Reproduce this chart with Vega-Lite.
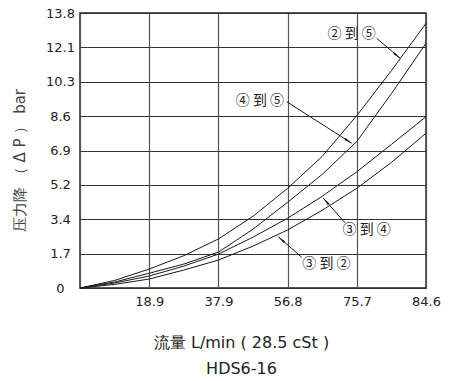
{
  "$schema": "https://vega.github.io/schema/vega-lite/v6.json",
  "width": 346,
  "height": 275,
  "autosize": {"type": "none"},
  "padding": {"left": 80, "top": 13, "right": 25, "bottom": 93},
  "background": "white",
  "config": {
    "view": {"stroke": "#222", "strokeWidth": 1.5},
    "font": "DejaVu Sans"
  },
  "datasets": {
    "curves": [
      {"series": "2-5", "flow": 0, "dp": 0}, {"series": "2-5", "flow": 9.46, "dp": 0.38}, {"series": "2-5", "flow": 18.93, "dp": 0.95}, {"series": "2-5", "flow": 28.39, "dp": 1.62}, {"series": "2-5", "flow": 37.86, "dp": 2.46}, {"series": "2-5", "flow": 47.32, "dp": 3.6}, {"series": "2-5", "flow": 56.79, "dp": 5.0}, {"series": "2-5", "flow": 66.25, "dp": 6.6}, {"series": "2-5", "flow": 75.72, "dp": 8.65}, {"series": "2-5", "flow": 85.18, "dp": 10.9}, {"series": "2-5", "flow": 94.63, "dp": 13.27},
      {"series": "4-5", "flow": 0, "dp": 0}, {"series": "4-5", "flow": 9.46, "dp": 0.3}, {"series": "4-5", "flow": 18.93, "dp": 0.74}, {"series": "4-5", "flow": 28.39, "dp": 1.2}, {"series": "4-5", "flow": 37.86, "dp": 1.8}, {"series": "4-5", "flow": 47.32, "dp": 2.95}, {"series": "4-5", "flow": 56.79, "dp": 4.3}, {"series": "4-5", "flow": 66.25, "dp": 5.7}, {"series": "4-5", "flow": 75.72, "dp": 7.35}, {"series": "4-5", "flow": 85.18, "dp": 9.75}, {"series": "4-5", "flow": 94.63, "dp": 12.27},
      {"series": "3-4", "flow": 0, "dp": 0}, {"series": "3-4", "flow": 9.46, "dp": 0.25}, {"series": "3-4", "flow": 18.93, "dp": 0.6}, {"series": "3-4", "flow": 28.39, "dp": 1.1}, {"series": "3-4", "flow": 37.86, "dp": 1.7}, {"series": "3-4", "flow": 47.32, "dp": 2.55}, {"series": "3-4", "flow": 56.79, "dp": 3.5}, {"series": "3-4", "flow": 66.25, "dp": 4.6}, {"series": "3-4", "flow": 75.72, "dp": 5.83}, {"series": "3-4", "flow": 85.18, "dp": 7.2}, {"series": "3-4", "flow": 94.63, "dp": 8.59},
      {"series": "3-2", "flow": 0, "dp": 0}, {"series": "3-2", "flow": 9.46, "dp": 0.18}, {"series": "3-2", "flow": 18.93, "dp": 0.45}, {"series": "3-2", "flow": 28.39, "dp": 0.9}, {"series": "3-2", "flow": 37.86, "dp": 1.4}, {"series": "3-2", "flow": 47.32, "dp": 2.1}, {"series": "3-2", "flow": 56.79, "dp": 2.91}, {"series": "3-2", "flow": 66.25, "dp": 3.9}, {"series": "3-2", "flow": 75.72, "dp": 5.0}, {"series": "3-2", "flow": 85.18, "dp": 6.3}, {"series": "3-2", "flow": 94.63, "dp": 7.76}
    ],
    "arrows": [
      {"id": "a", "fx": 81.15, "fy": 12.52, "tx": 87.53, "ty": 11.52},
      {"id": "b", "fx": 56.54, "fy": 9.34, "tx": 74.32, "ty": 7.26},
      {"id": "c", "fx": 72.48, "fy": 3.27, "tx": 66.55, "ty": 4.5},
      {"id": "d", "fx": 60.64, "fy": 1.54, "tx": 54.24, "ty": 2.57}
    ],
    "labels": [
      {"text": "② 到 ⑤", "flow": 74.3, "dp": 12.76},
      {"text": "④ 到 ⑤", "flow": 49.2, "dp": 9.4},
      {"text": "③ 到 ④", "flow": 78.4, "dp": 2.91},
      {"text": "③ 到 ②", "flow": 67.4, "dp": 1.18}
    ]
  },
  "encoding": {
    "x": {
      "type": "quantitative",
      "scale": {"domain": [0, 94.63], "nice": false, "zero": false},
      "axis": {
        "title": ["流量 L/min  (  28.5  cSt  )", "HDS6-16"],
        "titleFont": "DejaVu Sans",
        "titleFontSize": 16,
        "titleFontWeight": "normal",
        "titleColor": "#222",
        "titleX": 161,
        "titleY": 46,
        "titleAnchor": null,
        "titleAlign": "center",
        "titleBaseline": "top",
        "titleLineHeight": 26,
        "values": [0, 18.93, 37.86, 56.79, 75.72, 94.63],
        "labelExpr": "datum.value == 0 ? '' : (datum.value > 90 ? '84.6' : format(datum.value, '.1f'))",
        "labelFont": "DejaVu Sans",
        "labelFontSize": 13,
        "labelColor": "#222",
        "labelPadding": 7,
        "labelFlush": false,
        "labelOverlap": false,
        "labelBound": false,
        "ticks": false,
        "domain": false,
        "gridColor": "#555",
        "gridOpacity": 1,
        "gridWidth": 1.2
      }
    },
    "y": {
      "type": "quantitative",
      "scale": {"domain": [0, 13.79], "nice": false, "zero": false},
      "axis": {
        "title": "压力降 （ Δ P ） bar",
        "titleFont": "DejaVu Sans",
        "titleFontSize": 15,
        "titleFontWeight": "normal",
        "titleColor": "#444",
        "titleX": -61,
        "titleY": 147,
        "titleAngle": -90,
        "titleAlign": "center",
        "titleBaseline": "middle",
        "values": [0, 1.724, 3.448, 5.171, 6.895, 8.619, 10.343, 12.066, 13.79],
        "labelExpr": "datum.value == 0 ? '0' : format(datum.value, '.1f')",
        "labelFont": "DejaVu Sans",
        "labelFontSize": 13,
        "labelColor": "#222",
        "labelAlign": "center",
        "labelPadding": 20,
        "labelFlush": false,
        "labelOverlap": false,
        "labelBound": false,
        "ticks": false,
        "domain": false,
        "gridColor": "#333",
        "gridOpacity": 1,
        "gridWidth": 1.2
      }
    }
  },
  "layer": [
    {
      "data": {"name": "curves"},
      "mark": {"type": "line", "color": "#1a1a1a", "strokeWidth": 1},
      "encoding": {
        "x": {"field": "flow", "type": "quantitative"},
        "y": {"field": "dp", "type": "quantitative"},
        "detail": {"field": "series"}
      }
    },
    {
      "data": {"name": "arrows"},
      "mark": {"type": "rule", "color": "#1a1a1a", "strokeWidth": 1},
      "encoding": {
        "x": {"field": "fx", "type": "quantitative"},
        "y": {"field": "fy", "type": "quantitative"},
        "x2": {"field": "tx"},
        "y2": {"field": "ty"}
      }
    },
    {
      "data": {"name": "arrows"},
      "transform": [{"filter": "datum.id == 'a'"}],
      "mark": {"type": "point", "shape": "M0,0 L0.3,2 L-0.3,2 Z", "filled": true, "color": "#1a1a1a", "opacity": 1, "size": 64, "angle": 130.6},
      "encoding": {"x": {"field": "tx", "type": "quantitative"}, "y": {"field": "ty", "type": "quantitative"}}
    },
    {
      "data": {"name": "arrows"},
      "transform": [{"filter": "datum.id == 'b'"}],
      "mark": {"type": "point", "shape": "M0,0 L0.3,2 L-0.3,2 Z", "filled": true, "color": "#1a1a1a", "opacity": 1, "size": 64, "angle": 122.6},
      "encoding": {"x": {"field": "tx", "type": "quantitative"}, "y": {"field": "ty", "type": "quantitative"}}
    },
    {
      "data": {"name": "arrows"},
      "transform": [{"filter": "datum.id == 'c'"}],
      "mark": {"type": "point", "shape": "M0,0 L0.3,2 L-0.3,2 Z", "filled": true, "color": "#1a1a1a", "opacity": 1, "size": 64, "angle": 318.4},
      "encoding": {"x": {"field": "tx", "type": "quantitative"}, "y": {"field": "ty", "type": "quantitative"}}
    },
    {
      "data": {"name": "arrows"},
      "transform": [{"filter": "datum.id == 'd'"}],
      "mark": {"type": "point", "shape": "M0,0 L0.3,2 L-0.3,2 Z", "filled": true, "color": "#1a1a1a", "opacity": 1, "size": 64, "angle": 311.3},
      "encoding": {"x": {"field": "tx", "type": "quantitative"}, "y": {"field": "ty", "type": "quantitative"}}
    },
    {
      "data": {"name": "labels"},
      "mark": {"type": "text", "font": "Noto Sans CJK SC", "fontSize": 14, "color": "#222", "align": "center", "baseline": "middle"},
      "encoding": {
        "x": {"field": "flow", "type": "quantitative"},
        "y": {"field": "dp", "type": "quantitative"},
        "text": {"field": "text"}
      }
    }
  ]
}
